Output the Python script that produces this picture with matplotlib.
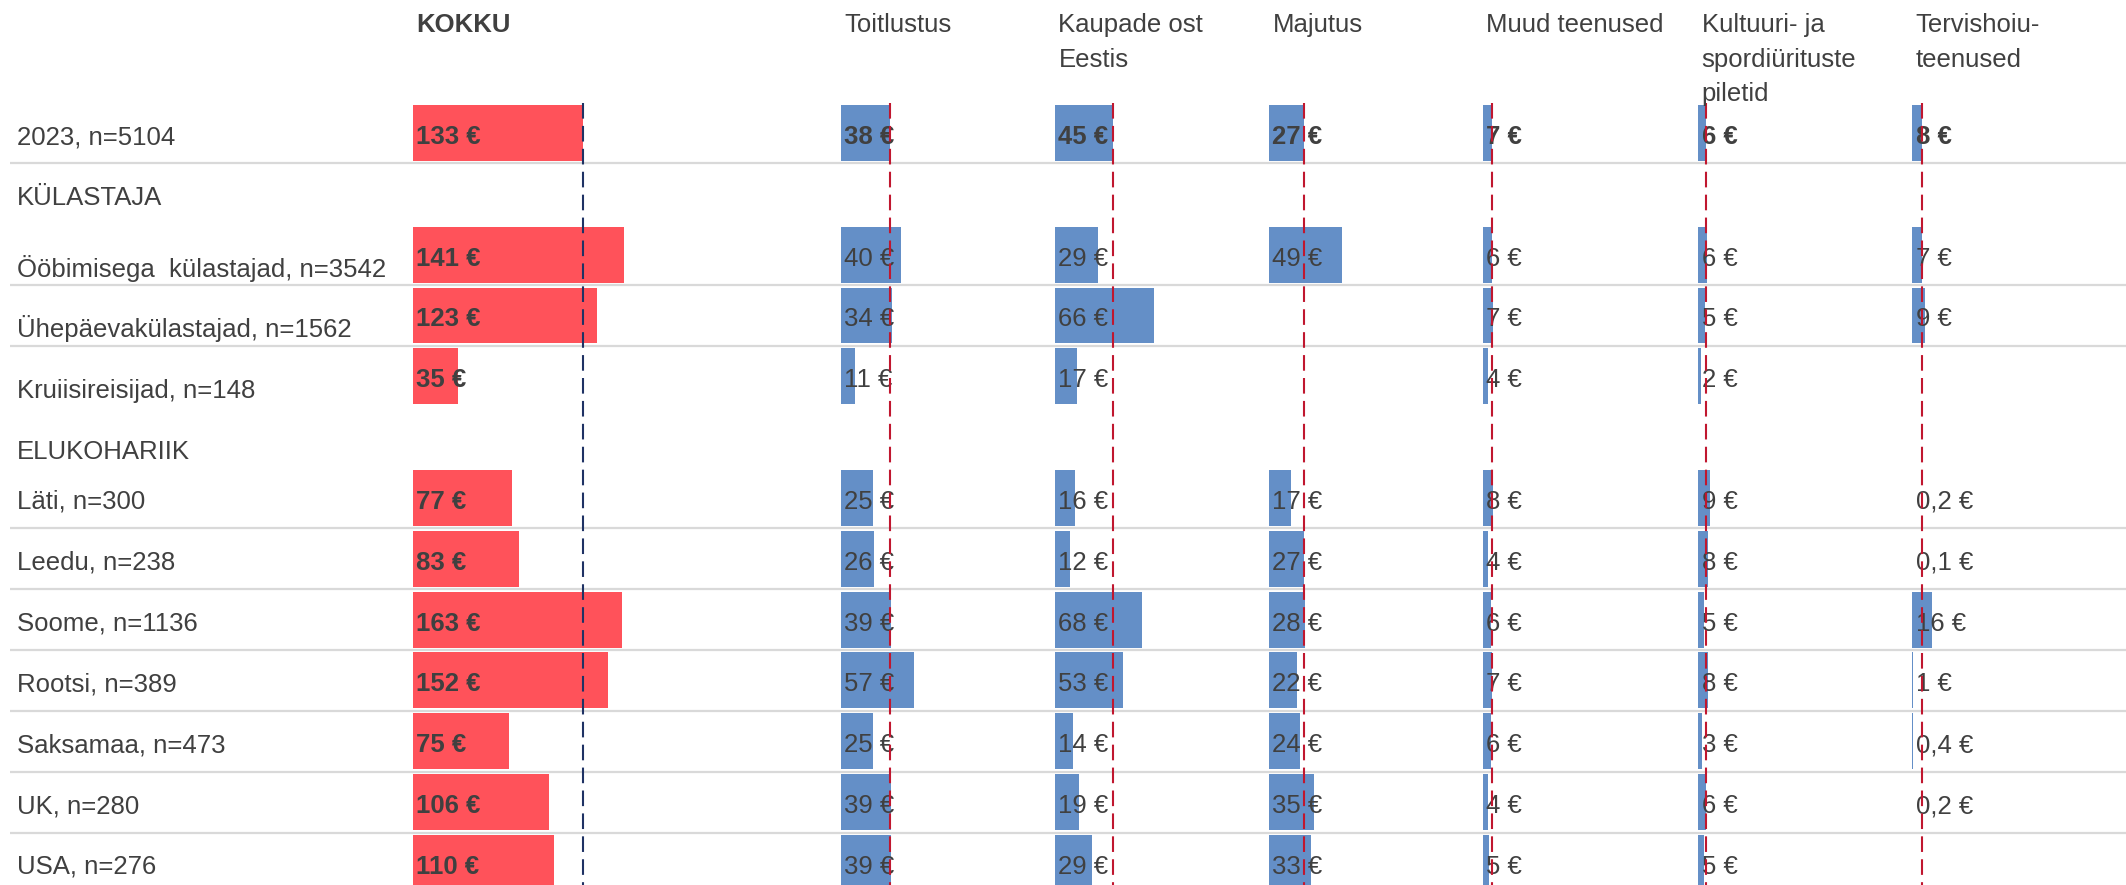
import numpy as np
import matplotlib.pyplot as plt

plt.rcParams['font.family'] = ['Liberation Sans', 'DejaVu Sans']

nan = np.nan

row_labels = ['2023, n=5104', 'KÜLASTAJA', 'Ööbimisega  külastajad, n=3542',
              'Ühepäevakülastajad, n=1562', 'Kruiisireisijad, n=148', 'ELUKOHARIIK',
              'Läti, n=300', 'Leedu, n=238', 'Soome, n=1136', 'Rootsi, n=389',
              'Saksamaa, n=473', 'UK, n=280', 'USA, n=276']

headers = ['KOKKU', 'Toitlustus', 'Kaupade ost\nEestis', 'Majutus', 'Muud teenused',
           'Kultuuri- ja\nspordiürituste\npiletid', 'Tervishoiu-\nteenused']

kokku = [133, nan, 141, 123, 35, nan, 77, 83, 163, 152, 75, 106, 110]
toitlustus = [38, nan, 40, 34, 11, nan, 25, 26, 39, 57, 25, 39, 39]
kaubad = [45, nan, 29, 66, 17, nan, 16, 12, 68, 53, 14, 19, 29]
majutus = [27, nan, 49, nan, nan, nan, 17, 27, 28, 22, 24, 35, 33]
muud = [7, nan, 6, 7, 4, nan, 8, 4, 6, 7, 6, 4, 5]
kultuur = [6, nan, 6, 5, 2, nan, 9, 8, 5, 8, 3, 6, 5]
tervis = [8, nan, 7, 9, nan, nan, 0.2, 0.1, 16, 1, 0.4, 0.2, nan]

panels = [kokku, toitlustus, kaubad, majutus, muud, kultuur, tervis]

# layout (pixels of the 2126x885 picture)
FIG_W, FIG_H = 2126, 885
ROW0, ROW_H = 133, 60.83
PX_PER_EUR = 1.28
PANEL_LEFT = [413, 841, 1055, 1269, 1483, 1698, 1912]
PANEL_W = [428, 214, 214, 214, 215, 214, 214]
SEP_AFTER = [0, 2, 3, 6, 7, 8, 9, 10, 11]
LOW_LABELS = [2, 3, 4, 5]       # these row labels sit a bit lower
WIDE_ROWS = [2, 3]              # rows pasted from a chart with a larger scale
WIDE_FACTOR = 1.17

TEXT = '#404040'
RED = '#FF525A'
BLUE = '#648FC7'
FS = 18.5

YLIM = ((FIG_H - ROW0) / ROW_H, -ROW0 / ROW_H)


def fmt(v):
    if v < 1:
        return '{:.1f} €'.format(v).replace('.', ',')
    return '{:.0f} €'.format(v)


fig = plt.figure(figsize=(FIG_W / 100, FIG_H / 100), dpi=100)

bg = fig.add_axes([0, 0, 1, 1], zorder=0)
bg.set_xlim(0, FIG_W)
bg.set_ylim(*YLIM)
bg.axis('off')
bg.hlines([i + 0.5 for i in SEP_AFTER], 10, FIG_W, color='#D9D9D9', lw=1.6)
for i, lab in enumerate(row_labels):
    drop = 22 if i in LOW_LABELS else 11
    bg.annotate(lab, xy=(17, i), xytext=(0, -drop), textcoords='offset pixels',
                va='baseline', ha='left', fontsize=FS, color=TEXT)

for p, vals in enumerate(panels):
    vals = np.array(vals, dtype=float)
    rect = [PANEL_LEFT[p] / FIG_W, 0, PANEL_W[p] / FIG_W, 1]
    xmax = PANEL_W[p] / PX_PER_EUR
    color = RED if p == 0 else BLUE

    ax = fig.add_axes(rect, zorder=2)
    ax.set_xlim(0, xmax)
    ax.set_ylim(*YLIM)
    ax.axis('off')

    tw = ax.twiny()
    tw.set_zorder(1)
    tw.set_xlim(0, xmax / WIDE_FACTOR)
    tw.axis('off')

    idx = np.arange(len(vals))
    ok = ~np.isnan(vals)
    normal = ok & ~np.isin(idx, WIDE_ROWS)
    wide = ok & np.isin(idx, WIDE_ROWS)
    ax.barh(idx[normal], vals[normal], height=0.92, color=color)
    tw.barh(idx[wide], vals[wide], height=0.92, color=color)

    for i in idx[ok]:
        bold = p == 0 or i == 0
        ax.annotate(fmt(vals[i]), xy=(0, i), xytext=(3.5, -11), textcoords='offset pixels',
                    va='baseline', ha='left', fontsize=FS, color=TEXT,
                    fontweight='bold' if bold else 'normal', annotation_clip=False)

    # 2023 level as reference line
    ax.vlines(vals[0], -0.5, YLIM[0] + 1, color='#1F3264' if p == 0 else '#C0172F',
              lw=1.5, linestyles=(0, (7.5, 3.5)), zorder=3)

    ax.annotate(headers[p], xy=(0, 1), xycoords=('data', 'axes fraction'),
                xytext=(3.5, -13), textcoords='offset pixels', va='top', ha='left',
                fontsize=FS, color=TEXT, linespacing=1.56,
                fontweight='bold' if p == 0 else 'normal', annotation_clip=False)

fig.savefig('out.png', dpi=100, facecolor='white')
